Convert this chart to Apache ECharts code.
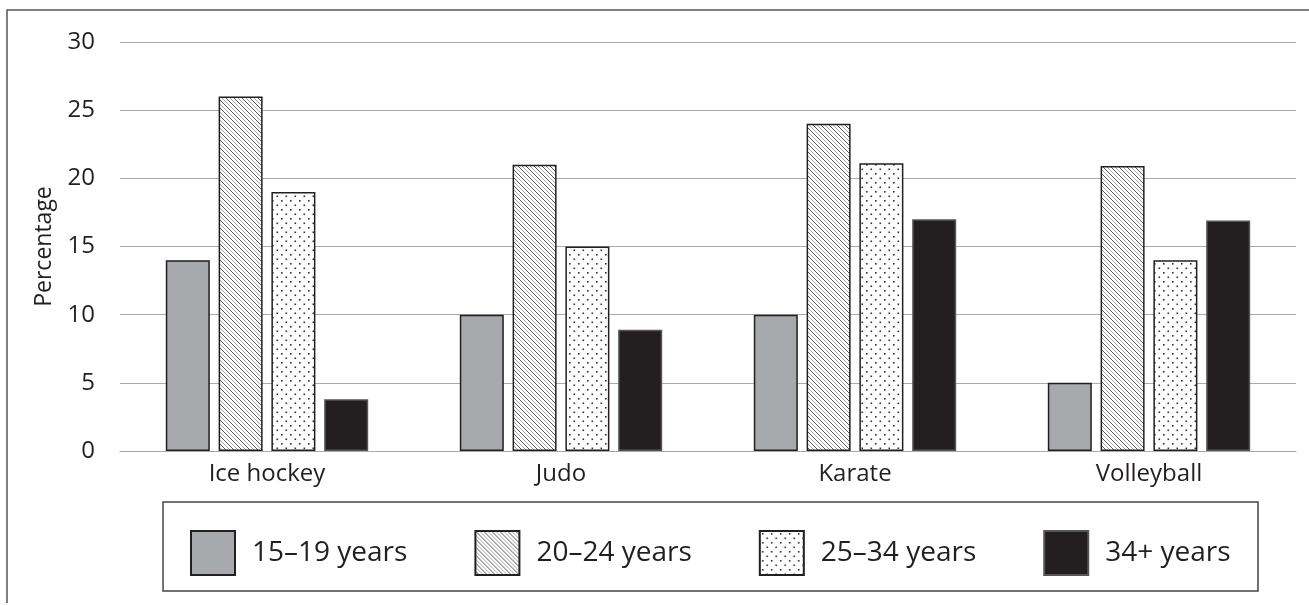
<!DOCTYPE html>
<html>
<head>
<meta charset="utf-8">
<script src="https://cdn.jsdelivr.net/npm/echarts@6/dist/echarts.min.js"></script>
<style>
  html, body { margin: 0; padding: 0; background: #fff; }
  #chart { width: 1309px; height: 606px; }
</style>
</head>
<body>
<div id="chart"></div>
<script>
// data
var sports = ['Ice hockey', 'Judo', 'Karate', 'Volleyball'];
var ageGroups = ['15–19 years', '20–24 years', '25–34 years', '34+ years'];
var age15to19 = [14, 10, 10, 5];
var age20to24 = [26, 21, 24, 20.9];
var age25to34 = [19, 15, 21.1, 14];
var age34plus = [3.8, 8.9, 17, 16.9];
var yTicks = { min: 0, max: 30, step: 5 };

var ink = '#231f20';

// fill patterns
function hatch() {
  var c = document.createElement('canvas');
  c.width = 8; c.height = 8;
  var g = c.getContext('2d');
  g.fillStyle = '#fff';
  g.fillRect(0, 0, 8, 8);
  g.lineWidth = 1;
  g.strokeStyle = '#555';
  g.beginPath();
  g.moveTo(-1, -1); g.lineTo(9, 9);
  g.stroke();
  g.strokeStyle = '#aaa';
  g.beginPath();
  g.moveTo(3, -1); g.lineTo(9, 5);
  g.moveTo(-1, 3); g.lineTo(5, 9);
  g.stroke();
  return { image: c, repeat: 'repeat' };
}

function dots() {
  var c = document.createElement('canvas');
  c.width = 9; c.height = 9;
  var g = c.getContext('2d');
  g.fillStyle = '#fff';
  g.fillRect(0, 0, 9, 9);
  g.fillStyle = '#333';
  g.fillRect(2, 2, 1.6, 1.6);
  g.fillRect(6.5, 6.5, 1.6, 1.6);
  return { image: c, repeat: 'repeat' };
}

var fills = ['#a7a9ac', hatch(), dots(), ink];
var values = [age15to19, age20to24, age25to34, age34plus];

var chart = echarts.init(document.getElementById('chart'));

var series = ageGroups.map(function (name, i) {
  return {
    name: name,
    type: 'bar',
    barWidth: 44,
    barGap: '20%',
    itemStyle: {
      color: fills[i],
      borderColor: i === 3 ? '#555' : ink,
      borderWidth: 1.5
    },
    data: values[i]
  };
});

var option = {
  backgroundColor: '#fff',
  animation: false,
  textStyle: { fontFamily: 'Open Sans', color: ink },
  grid: { left: 120, right: 13, top: 42, bottom: 155 },
  legend: {
    left: 190,
    top: 530,
    padding: 0,
    itemWidth: 44,
    itemHeight: 44,
    itemGap: 67,
    icon: 'rect',
    textStyle: { fontSize: 28, color: ink, fontFamily: 'Open Sans', padding: [0, 0, 0, 12] },
    data: ageGroups
  },
  xAxis: {
    type: 'category',
    data: sports,
    axisLine: { lineStyle: { color: '#aaa', width: 1.2 } },
    axisTick: { show: false },
    axisLabel: { fontSize: 24, color: ink, margin: 11 }
  },
  yAxis: {
    type: 'value',
    min: yTicks.min,
    max: yTicks.max,
    interval: yTicks.step,
    name: 'Percentage',
    nameLocation: 'middle',
    nameGap: 64,
    nameTextStyle: { fontSize: 23, color: ink },
    axisLine: { show: false },
    axisTick: { show: false },
    axisLabel: { fontSize: 24, color: ink, margin: 25 },
    splitLine: { lineStyle: { color: '#aaa', width: 1.2 } }
  },
  graphic: [
    {
      type: 'polyline',
      shape: { points: [[7, 603], [7, 10], [1309, 10]] },
      style: { stroke: '#555', lineWidth: 1.5, fill: null }
    },
    {
      type: 'rect',
      shape: { x: 163, y: 502, width: 1095, height: 89 },
      style: { stroke: '#444', lineWidth: 1.5, fill: null }
    }
  ],
  series: series
};

chart.setOption(option);
window.onresize = function () { chart.resize(); };
</script>
</body>
</html>
